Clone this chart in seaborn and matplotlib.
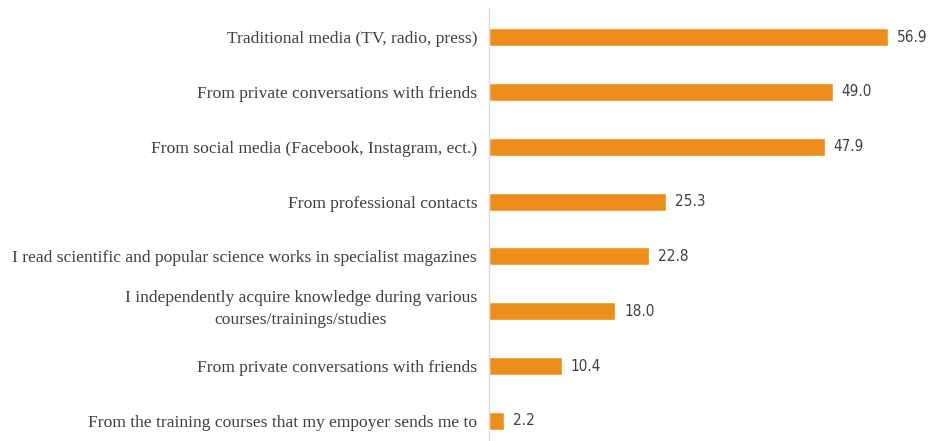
import matplotlib
matplotlib.use("Agg")
import matplotlib.pyplot as plt
import matplotlib.transforms as mtransforms
import seaborn as sns
import pandas as pd

sources = [
    "Traditional media (TV, radio, press)",
    "From private conversations with friends",
    "From social media (Facebook, Instagram, ect.)",
    "From professional contacts",
    "I read scientific and popular science works in specialist magazines",
    "I independently acquire knowledge during various\ncourses/trainings/studies",
    "From private conversations with friends",
    "From the training courses that my empoyer sends me to",
]
shares = [56.9, 49.0, 47.9, 25.3, 22.8, 18.0, 10.4, 2.2]

# two answers share the same wording, so rows are keyed by position
df = pd.DataFrame({"row": [str(i) for i in range(len(sources))],
                   "share": shares})

sns.set_theme(style="white")
fig = plt.figure(figsize=(9.31, 4.41), dpi=100)
ax = fig.add_axes([489 / 931, 0, 442 / 931, 433 / 441])

sns.barplot(data=df, x="share", y="row", color="#EE8E1A",
            width=0.33, saturation=1, ax=ax, orient="h")

ax.set_xlim(0, 63.05)
ax.set_ylim(7.365, -0.529)
ax.set_xlabel("")
ax.set_ylabel("")
ax.set_xticks([])
ax.set_yticks(range(len(sources)), sources)

for s in ["top", "right", "bottom"]:
    ax.spines[s].set_visible(False)
ax.spines["left"].set_color("#D9D9D9")
ax.spines["left"].set_linewidth(1.0)

ax.tick_params(axis="y", length=0, pad=8.5)
lift = mtransforms.ScaledTranslation(0, 0.07, fig.dpi_scale_trans)
for lbl in ax.get_yticklabels():
    lbl.set_fontfamily("Liberation Serif")
    lbl.set_fontsize(12.6)
    lbl.set_color("#404040")
    lbl.set_multialignment("center")
    if "\n" in lbl.get_text():
        lbl.set_linespacing(1.5)
        lbl.set_transform(lbl.get_transform() + lift)

ax.bar_label(ax.containers[0], fmt="%.1f", padding=6.5,
             fontsize=11, color="#404040",
             fontfamily="DejaVu Sans", fontstretch="condensed")

fig.savefig("out.png", dpi=100)
